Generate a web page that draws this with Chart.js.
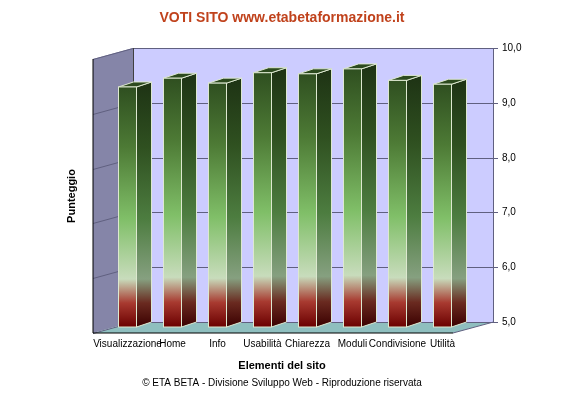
<!DOCTYPE html><html><head><script src="https://cdn.jsdelivr.net/npm/chart.js@4"></script>
<style>body{margin:0;background:#fff}</style></head><body>
<div style="width:563px;height:403px"><canvas id="c"></canvas></div>
<script>
const categories=["Visualizzazione","Home","Info","Usabilità","Chiarezza","Moduli","Condivisione","Utilità"];
const values=[9.38,9.54,9.45,9.64,9.62,9.71,9.5,9.43];
const tickLabels=["5,0","6,0","7,0","8,0","9,0","10,0"];
const DX=40,DY=11,BX=15,BY=5,SX=-28;
const deco={id:'deco',
beforeDatasetsDraw(ch){const c=ch.ctx,a=ch.chartArea,y=ch.scales.y;
 c.save();
 // back wall
 c.fillStyle='#ccccff';c.fillRect(a.left,a.top,a.right-a.left,a.bottom-a.top);
 // left wall
 c.fillStyle='#8585a8';c.beginPath();c.moveTo(a.left-DX,a.top+DY);c.lineTo(a.left,a.top);c.lineTo(a.left,a.bottom);c.lineTo(a.left-DX,a.bottom+DY);c.closePath();c.fill();
 // floor
 c.fillStyle='#8fbfbf';c.beginPath();c.moveTo(a.left-DX,a.bottom+DY);c.lineTo(a.left,a.bottom);c.lineTo(a.right,a.bottom);c.lineTo(a.right-DX,a.bottom+DY);c.closePath();c.fill();
 // grid
 c.strokeStyle='#606080';c.lineWidth=1;
 tickLabels.forEach((t,i)=>{const p=Math.round(y.getPixelForValue(5+i))+0.5;
  c.beginPath();c.moveTo(a.left-DX,p+DY);c.lineTo(a.left,p);c.lineTo(a.right+5,p);c.stroke();
  c.fillStyle='#000';c.font='10px Arial';c.textAlign='left';c.textBaseline='middle';c.fillText(t,a.right+9,p);});
 c.beginPath();c.moveTo(a.right+0.5,a.top);c.lineTo(a.right+0.5,a.bottom);c.lineTo(a.right-DX,a.bottom+DY);c.stroke();
 c.strokeStyle='#404040';c.beginPath();c.moveTo(a.left+0.5,a.top);c.lineTo(a.left+0.5,a.bottom);c.stroke();
 c.strokeStyle='#000';c.beginPath();c.moveTo(a.left-DX,a.top+DY);c.lineTo(a.left-DX,a.bottom+DY);c.lineTo(a.right-DX,a.bottom+DY);c.stroke();
 c.restore();},
afterDatasetsDraw(ch){const c=ch.ctx,a=ch.chartArea,y=ch.scales.y,m=ch.getDatasetMeta(0);
 c.save();
 const bot=a.bottom+BY;
 m.data.forEach((b,i)=>{const w=b.width,x0=b.x-w/2+SX,top=b.y+BY,x1=x0+w;
  const g=c.createLinearGradient(0,bot,0,top);
  const s=[[0,'#6a0000'],[0.1,'#a83a30'],[0.2,'#c8dcbc'],[0.45,'#80bf68'],[0.75,'#4d7a35'],[1,'#2f4f20']];
  s.forEach(q=>g.addColorStop(q[0],q[1]));
  const g2=c.createLinearGradient(0,bot,0,top);
  [[0,'#3a0000'],[0.1,'#6a2a20'],[0.2,'#86a080'],[0.45,'#4d7d40'],[0.75,'#2f5020'],[1,'#1f3515']].forEach(q=>g2.addColorStop(q[0],q[1]));
  // side
  c.fillStyle=g2;c.beginPath();c.moveTo(x1,top);c.lineTo(x1+BX,top-BY);c.lineTo(x1+BX,bot-BY);c.lineTo(x1,bot);c.closePath();c.fill();
  c.strokeStyle='#dde8d0';c.lineWidth=1;c.stroke();
  // top
  c.fillStyle='#2c4a1e';c.beginPath();c.moveTo(x0,top);c.lineTo(x0+BX,top-BY);c.lineTo(x1+BX,top-BY);c.lineTo(x1,top);c.closePath();c.fill();c.stroke();
  c.fillStyle=g;c.fillRect(x0,top,w,bot-top);c.strokeRect(x0,top,w,bot-top);
  c.fillStyle='#000';c.font='10px Arial';c.textAlign='center';c.textBaseline='top';c.fillText(categories[i],x0+w/2,a.bottom+17);
 });
 c.fillStyle='#c0421c';c.font='bold 14px Arial';c.textAlign='center';c.textBaseline='middle';c.fillText('VOTI SITO www.etabetaformazione.it',282,18);
 c.fillStyle='#000';c.font='bold 11px Arial';c.fillText('Elementi del sito',282,366);
 c.font='10px Arial';c.fillText('© ETA BETA - Divisione Sviluppo Web - Riproduzione riservata',282,383);
 c.font='bold 11px Arial';c.translate(72,196);c.rotate(-Math.PI/2);c.fillText('Punteggio',0,0);
 c.restore();}};
new Chart(document.getElementById('c'),{type:'bar',
data:{labels:categories,datasets:[{data:values,backgroundColor:'rgba(0,0,0,0)',barPercentage:0.4,categoryPercentage:1}]},
options:{responsive:true,maintainAspectRatio:false,animation:false,
layout:{padding:{left:133,right:70,top:48,bottom:81}},
plugins:{legend:{display:false},tooltip:{enabled:false}},
scales:{x:{display:false},y:{display:false,min:5,max:10}}},
plugins:[deco]});
</script></body></html>
